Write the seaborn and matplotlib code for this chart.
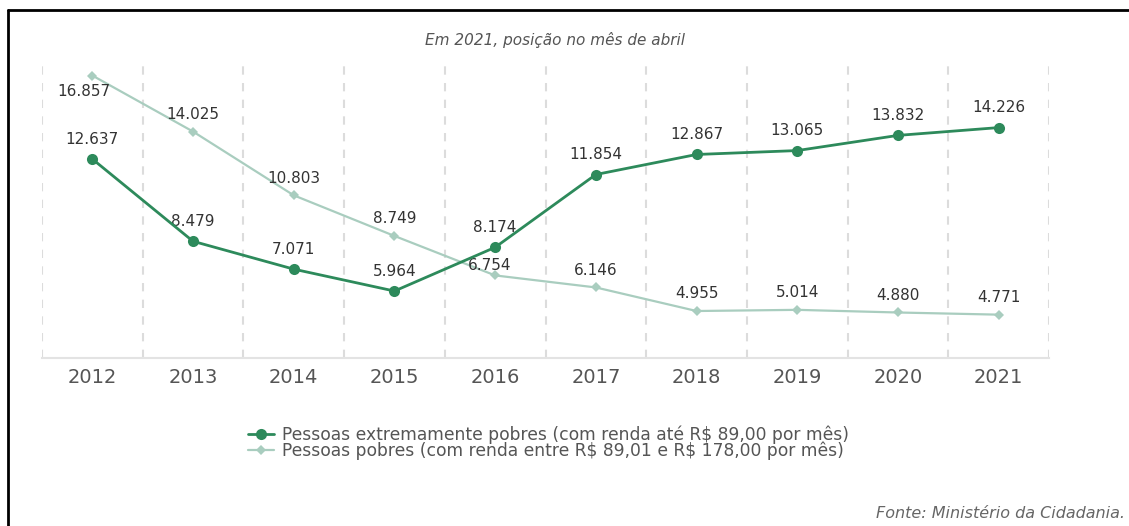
import matplotlib
matplotlib.use("Agg")
import matplotlib.pyplot as plt
from matplotlib.lines import Line2D
import seaborn as sns
import pandas as pd

# -------------------------------
# Data (milhares de pessoas)
# -------------------------------
years = [2012, 2013, 2014, 2015, 2016, 2017, 2018, 2019, 2020, 2021]
extremamente_pobres = [12.637, 8.479, 7.071, 5.964, 8.174, 11.854, 12.867, 13.065, 13.832, 14.226]
pobres = [16.857, 14.025, 10.803, 8.749, 6.754, 6.146, 4.955, 5.014, 4.880, 4.771]

label_extremo = "Pessoas extremamente pobres (com renda até R$ 89,00 por mês)"
label_pobre = "Pessoas pobres (com renda entre R$ 89,01 e R$ 178,00 por mês)"
title = "Em 2021, posição no mês de abril"
source = "Fonte: Ministério da Cidadania."

df = pd.DataFrame({"ano": years, "extremo": extremamente_pobres, "pobre": pobres})

DARK = "#2d8a5b"
LIGHT = "#a9cdbf"

sns.set_style("white")
plt.rcParams["font.family"] = ["DejaVu Sans"]
plt.rcParams["text.parse_math"] = False

fig = plt.figure(figsize=(11.29, 5.26), dpi=100)
ax = fig.add_axes([42 / 1129, 1 - 358 / 526, (1049 - 42) / 1129, (358 - 65) / 526])

# -------------------------------
# Lines
# -------------------------------
sns.lineplot(data=df, x="ano", y="pobre", ax=ax, color=LIGHT, linewidth=1.6,
             marker="D", markersize=5, markeredgewidth=0, label=label_pobre, zorder=3)
sns.lineplot(data=df, x="ano", y="extremo", ax=ax, color=DARK, linewidth=2.0,
             marker="o", markersize=8, markeredgewidth=0, label=label_extremo, zorder=4)

# value labels
fmt = lambda v: f"{v:.3f}"
for x, v in zip(years, extremamente_pobres):
    ax.annotate(fmt(v), (x, v), xytext=(0, 9), textcoords="offset points",
                ha="center", va="bottom", fontsize=11, color="#333333")
for x, v in zip(years, pobres):
    off = (0, 7)
    if x == 2012:
        off = (-6, -6)
    elif x == 2016:
        off = (-4, 2)
    va = "top" if off[1] < 0 else "bottom"
    ax.annotate(fmt(v), (x, v), xytext=off, textcoords="offset points",
                ha="center", va=va, fontsize=11, color="#333333")

# -------------------------------
# Axes styling
# -------------------------------
ax.set_xlim(years[0] - 0.5, years[-1] + 0.5)
ax.set_ylim(2.58, 17.39)
ax.set_xticks(years)
ax.set_xticklabels([str(y) for y in years])
ax.set_yticks([])
ax.set_xlabel("")
ax.set_ylabel("")
ax.tick_params(axis="x", length=0, pad=7, labelsize=14, colors="#555555")
for s in ["top", "right", "left"]:
    ax.spines[s].set_visible(False)
ax.spines["bottom"].set_color("#e3e3e3")
ax.spines["bottom"].set_linewidth(1.5)

for b in range(len(years) + 1):
    ax.axvline(years[0] - 0.5 + b, color="#dcdcdc", linewidth=1.5,
               linestyle=(0, (4, 4)), zorder=1)

# legend
handles, labels = ax.get_legend_handles_labels()
ax.get_legend().remove()
order = [labels.index(label_extremo), labels.index(label_pobre)]
fig.legend([handles[i] for i in order], [labels[i] for i in order],
           loc="upper left", bbox_to_anchor=(248 / 1129, 1 - 425 / 526),
           bbox_transform=fig.transFigure, frameon=False, fontsize=12.3,
           handlelength=1.5, handletextpad=0.5, labelspacing=-0.12,
           borderpad=0, borderaxespad=0, labelcolor="#555555")

# title and source
fig.text(555 / 1129, 1 - 40 / 526, title, ha="center", va="center",
         fontsize=11, style="italic", color="#555555")
fig.text(1125 / 1129, 1 - 513 / 526, source, ha="right", va="center",
         fontsize=11.5, style="italic", color="#666666")

# outer frame (only left and top edges visible)
fig.add_artist(Line2D([8 / 1129, 8 / 1129], [0, 1 - 10 / 526], transform=fig.transFigure,
                      color="black", linewidth=2))
fig.add_artist(Line2D([8 / 1129, 1], [1 - 10 / 526, 1 - 10 / 526], transform=fig.transFigure,
                      color="black", linewidth=2))

plt.savefig("out.png", dpi=100)
